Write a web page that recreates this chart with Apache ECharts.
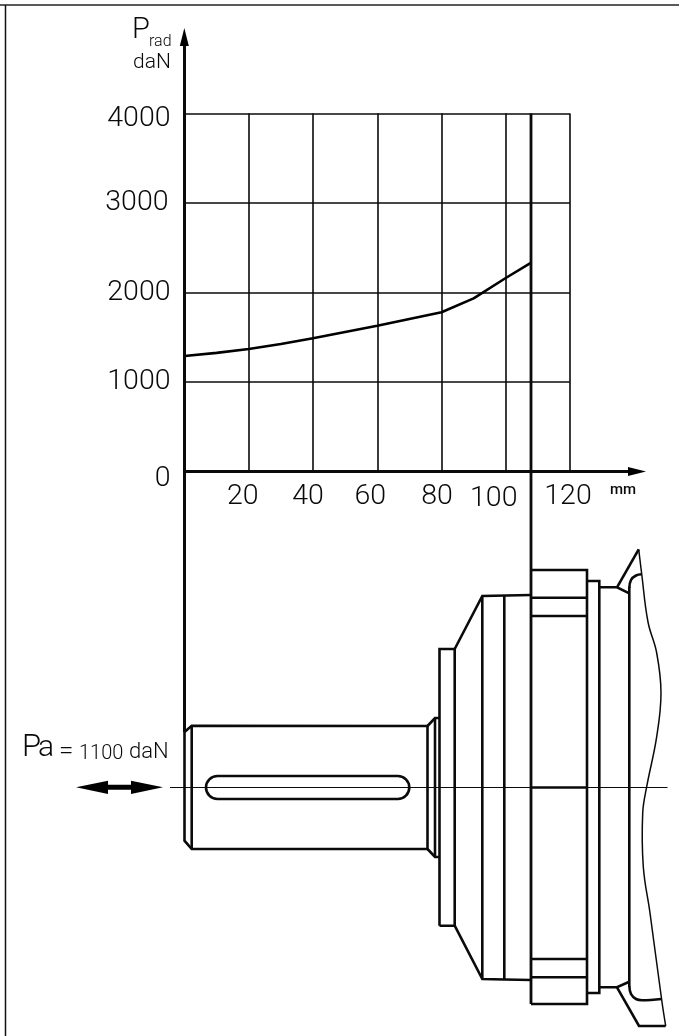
<!DOCTYPE html>
<html><head><meta charset="utf-8">
<style>html,body{margin:0;padding:0;background:#fff}#c{width:679px;height:1036px}</style>
<script src="https://cdn.jsdelivr.net/npm/echarts@6/dist/echarts.min.js"></script>
</head><body><div id="c"></div>
<script>
const distanceMm = [0, 10, 20, 30, 40, 50, 60, 70, 80, 90, 100, 107.8];
const radialLoadDaN = [1290, 1325, 1369, 1425, 1488, 1559, 1629, 1704, 1779, 1935, 2162, 2330];
const xTickLabels = [20, 40, 60, 80, 100, 120];
const yTickLabels = [0, 1000, 2000, 3000, 4000];

const FONT = 'Roboto, "Liberation Sans", sans-serif';
const INK = '#0a0a0a';
const xRich = {
  t20: {padding: [0, 12, 0, 0]}, t40: {padding: [0, 10, 0, 0]}, t60: {padding: [0, 14, 0, 0]},
  t80: {padding: [0, 9, 4, 0]}, t100: {padding: [2, 24, 0, 0]}, t120: {padding: [0, 4, 0, 0]}
};
const yRich = {
  t0: {padding: [15, 0, 0, 0]}, t1000: {padding: [0, 0, 0, 0]}, t2000: {padding: [0, 0, 0, 0]},
  t3000: {padding: [0, 2, 0, 0]}, t4000: {padding: [10, 0, 0, 0]}
};
const lbl = {fontFamily: FONT, fontWeight: 300, fontSize: 28.5, color: INK};
for (const k in xRich) Object.assign(xRich[k], lbl);
for (const k in yRich) Object.assign(yRich[k], lbl);

const W = 2.6;
function poly(points, w) {
  return {type: 'polyline', silent: true, z: 10, shape: {points},
    style: {stroke: INK, lineWidth: w || W, fill: null, lineJoin: 'miter'}};
}
function line(x1, y1, x2, y2, w, c) {
  return {type: 'line', silent: true, z: 10, shape: {x1, y1, x2, y2},
    style: {stroke: c || INK, lineWidth: w || W}};
}
function txt(text, x, baseline, size, extra) {
  return {type: 'text', silent: true, z: 20, x, y: baseline - 0.36 * size,
    style: Object.assign({text, fill: INK, fontFamily: FONT, fontWeight: 300, fontSize: size,
      align: 'left', verticalAlign: 'middle'}, extra || {})};
}
function fillPoly(points) {
  return {type: 'polygon', silent: true, z: 11, shape: {points}, style: {fill: '#000', stroke: null}};
}
function smoothLine(points, w) {
  return {type: 'polyline', silent: true, z: 10, shape: {points, smooth: 0.4},
    style: {stroke: INK, lineWidth: w || 1.5, fill: null}};
}

const drawing = [
  // frame
  line(0, 5, 679, 5, 1.5, '#222'), line(5.5, 5, 5.5, 1036, 1.5, '#111'),
  // axis extensions + arrows
  line(184.5, 40, 184.5, 732, 3), line(184.5, 471.5, 632, 471.5, 3),
  fillPoly([[184.3, 28], [188.8, 46], [179.8, 46]]),
  fillPoly([[646, 471.5], [628, 467], [628, 476]]),
  // load limit line
  line(531, 113.5, 531, 1004, 2.8),
  // centre line
  line(170, 787.5, 667.5, 787.5, 1.1),
  // shaft
  poly([[184.5, 732], [184.5, 840.7], [191.7, 849], [427.5, 849], [427.5, 726], [191.7, 725.7], [184.5, 732]]),
  line(191.7, 725.7, 191.7, 849),
  {type: 'rect', silent: true, z: 10, shape: {x: 206, y: 776, width: 203.3, height: 23, r: 11.5},
    style: {stroke: INK, lineWidth: W, fill: null}},
  // shoulder
  poly([[427.5, 726], [435, 718], [439.5, 718]]), poly([[427.5, 849], [435, 857], [439.5, 857]]),
  line(435, 718, 435, 857),
  poly([[439.5, 925.7], [439.5, 649], [454.7, 649], [454.7, 925.7], [439.5, 925.7]]),
  poly([[454.7, 649], [482.3, 596], [531, 595]]),
  poly([[454.7, 925.7], [482.3, 979], [504.3, 979.5], [531, 980]]),
  line(482.3, 596, 482.3, 979), line(504.3, 595, 504.3, 980),
  // flange
  poly([[531, 570], [587, 570], [587, 1004], [531, 1004]]),
  line(531, 597.7, 587, 597.7), line(531, 616, 587, 616),
  line(531, 787.5, 587, 787.5),
  line(531, 959, 587, 959), line(531, 977.3, 587, 977.3),
  poly([[587, 581], [599.3, 581], [599.3, 993], [587, 993]]),
  // housing
  poly([[599.3, 587.3], [617, 587.3], [629.3, 593.3]]),
  poly([[599.3, 987.3], [617, 987.3], [629.3, 981.7]]),
  line(629.3, 586.7, 629.3, 986.7),
  poly([[617, 587.3], [638.7, 549.3]]),
  poly([[617, 987.3], [639, 1026], [665.7, 1026]]),
  smoothLine([[629.3, 588], [631, 580], [636, 575.5], [641.7, 574.3]], W),
  smoothLine([[629.3, 986], [631, 994], [636, 999], [642, 1000.3], [661.7, 999]], W),
  // break line
  smoothLine([[638.7, 549.3], [641.7, 574], [648, 622], [656.7, 653], [661, 693], [656.7, 736.7],
    [646.7, 786.7], [642.7, 813], [643.3, 866.7], [650, 913], [661.7, 1000], [665.7, 1026]], 1.5),
  // double arrow
  fillPoly([[76, 787.3], [108, 780.7], [108, 784.8], [131, 784.8], [131, 780.7], [163, 787.3],
    [131, 794], [131, 789.8], [108, 789.8], [108, 794]]),
  // texts
  txt('P', 132, 41, 29), txt('rad', 149, 47.5, 16), txt('daN', 133, 70, 21),
  txt('mm', 610, 496, 15, {fontWeight: 500}),
  txt('P', 22, 759, 31), txt('a', 38, 759, 30),
  txt('=', 59, 761.5, 26), txt('1100', 79, 760.7, 20), txt('daN', 129, 760.7, 22)
];

const chart = echarts.init(document.getElementById('c'), null, {renderer: 'canvas'});
chart.setOption({
  animation: false,
  backgroundColor: '#fff',
  grid: {left: 184.5, top: 113.5, width: 385.5, height: 358, containLabel: false},
  xAxis: {
    type: 'value', min: 0, max: 120, interval: 20,
    axisLine: {lineStyle: {color: INK, width: 3}}, axisTick: {show: false},
    splitLine: {show: true, lineStyle: {color: INK, width: 1.6}},
    axisLabel: {
      margin: 11, color: INK, showMinLabel: false,
      formatter: v => xTickLabels.includes(v) ? '{t' + v + '|' + v + '}' : '',
      rich: xRich
    }
  },
  yAxis: {
    type: 'value', min: 0, max: 4000, interval: 1000,
    axisLine: {onZero: false, lineStyle: {color: INK, width: 3}}, axisTick: {show: false},
    splitLine: {show: true, lineStyle: {color: INK, width: 1.6}},
    axisLabel: {
      margin: 14, color: INK,
      formatter: v => yTickLabels.includes(v) ? '{t' + v + '|' + v + '}' : '',
      rich: yRich
    }
  },
  series: [{
    type: 'line', showSymbol: false, silent: true, z: 5,
    data: distanceMm.map((x, i) => [x, radialLoadDaN[i]]),
    lineStyle: {color: '#000', width: 2.6}
  }],
  graphic: {elements: drawing}
});
</script></body></html>
